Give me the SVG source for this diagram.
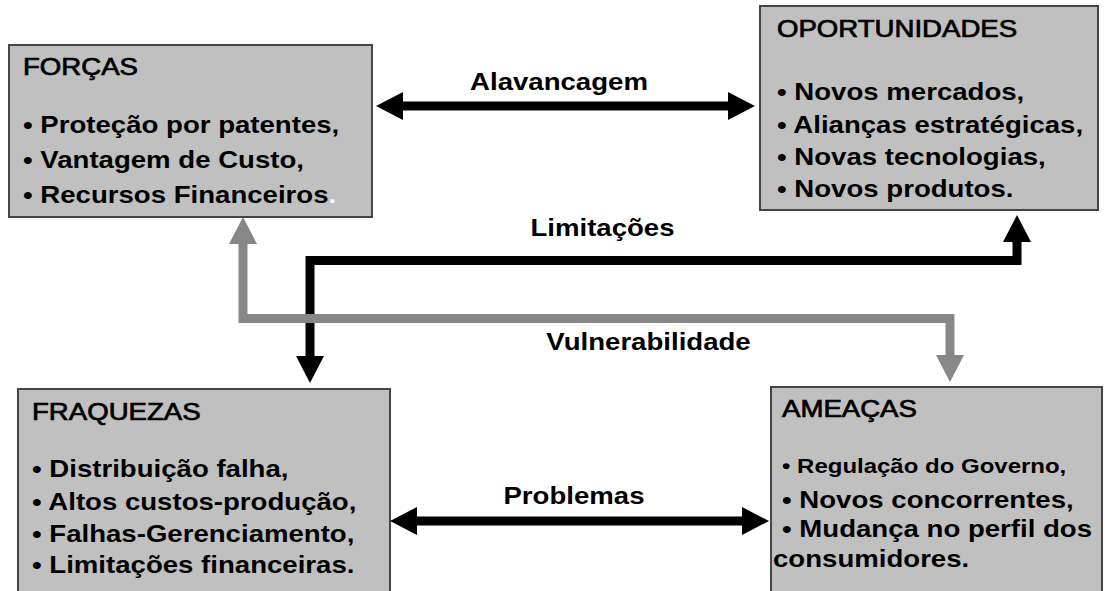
<svg xmlns="http://www.w3.org/2000/svg" width="1105" height="591" viewBox="0 0 1105 591">
<defs>
<style>
.box{fill:#c0c0c0;stroke:#454545;stroke-width:2}
text{font-family:"Liberation Sans",Arial,sans-serif;font-size:23px;fill:#000;font-weight:bold}
.title{font-weight:normal;stroke:#000;stroke-width:0.7}
.lbl{text-anchor:middle}
.sm{font-size:20px}
.blk{fill:none;stroke:#000;stroke-width:9;stroke-linejoin:miter}
.gry{fill:none;stroke:#878787;stroke-width:9;stroke-linejoin:miter}
</style>
<marker id="hb" markerUnits="userSpaceOnUse" markerWidth="27" markerHeight="28" refX="0" refY="14" orient="auto-start-reverse" viewBox="0 0 27 28"><path d="M0,0 L27,14 L0,28 z" fill="#000"/></marker>
<marker id="hg" markerUnits="userSpaceOnUse" markerWidth="27" markerHeight="28" refX="0" refY="14" orient="auto-start-reverse" viewBox="0 0 27 28"><path d="M0,0 L27,14 L0,28 z" fill="#878787"/></marker>
</defs>
<rect width="1105" height="591" fill="#fff"/>
<g id="forcas">
<rect class="box" x="9" y="45" width="363" height="172"/>
<text class="title" transform="translate(23,75) scale(1.2,1)">FORÇAS</text>
<text transform="translate(23,133) scale(1.2,1)">• Proteção por patentes,</text>
<text transform="translate(23,168) scale(1.2,1)">• Vantagem de Custo,</text>
<text transform="translate(23,203) scale(1.2,1)">• Recursos Financeiros<tspan fill="#fff">.</tspan></text>
</g>
<g id="oportunidades">
<rect class="box" x="760" y="6" width="338" height="204"/>
<text class="title" transform="translate(777,37) scale(1.2,1)">OPORTUNIDADES</text>
<text transform="translate(777,100) scale(1.2,1)">• Novos mercados,</text>
<text transform="translate(777,132.5) scale(1.2,1)">• Alianças estratégicas,</text>
<text transform="translate(777,165) scale(1.2,1)">• Novas tecnologias,</text>
<text transform="translate(777,197) scale(1.2,1)">• Novos produtos.</text>
</g>
<g id="fraquezas">
<rect class="box" x="18" y="389" width="372" height="210"/>
<text class="title" transform="translate(32,420) scale(1.2,1)">FRAQUEZAS</text>
<text transform="translate(32,477) scale(1.2,1)">• Distribuição falha,</text>
<text transform="translate(32,510) scale(1.2,1)">• Altos custos-produção,</text>
<text transform="translate(32,542) scale(1.2,1)">• Falhas-Gerenciamento,</text>
<text transform="translate(32,573) scale(1.2,1)">• Limitações financeiras.</text>
</g>
<g id="ameacas">
<rect class="box" x="771" y="387" width="331" height="210"/>
<text class="title" transform="translate(782,417) scale(1.2,1)">AMEAÇAS</text>
<text class="sm" transform="translate(782,473) scale(1.2,1)">• Regulação do Governo,</text>
<text transform="translate(782,507.5) scale(1.2,1)">• Novos concorrentes,</text>
<text transform="translate(782,537) scale(1.2,1)">• Mudança no perfil dos</text>
<text transform="translate(773,567) scale(1.2,1)">consumidores.</text>
</g>
<g id="connectors">
<path class="blk" d="M403,106 H728" marker-start="url(#hb)" marker-end="url(#hb)"/>
<path class="blk" d="M417,521 H742" marker-start="url(#hb)" marker-end="url(#hb)"/>
<path class="blk" d="M310,356 V260.5 H1017 V242" marker-start="url(#hb)" marker-end="url(#hb)"/>
<path class="gry" d="M243,244 V318.5 H950 V355" marker-start="url(#hg)" marker-end="url(#hg)"/>
<text class="lbl" transform="translate(559,90) scale(1.2,1)">Alavancagem</text>
<text class="lbl" transform="translate(574,504) scale(1.2,1)">Problemas</text>
<text class="lbl" transform="translate(602.5,236) scale(1.2,1)">Limitações</text>
<text class="lbl" transform="translate(648.5,350) scale(1.2,1)">Vulnerabilidade</text>
</g>
</svg>
